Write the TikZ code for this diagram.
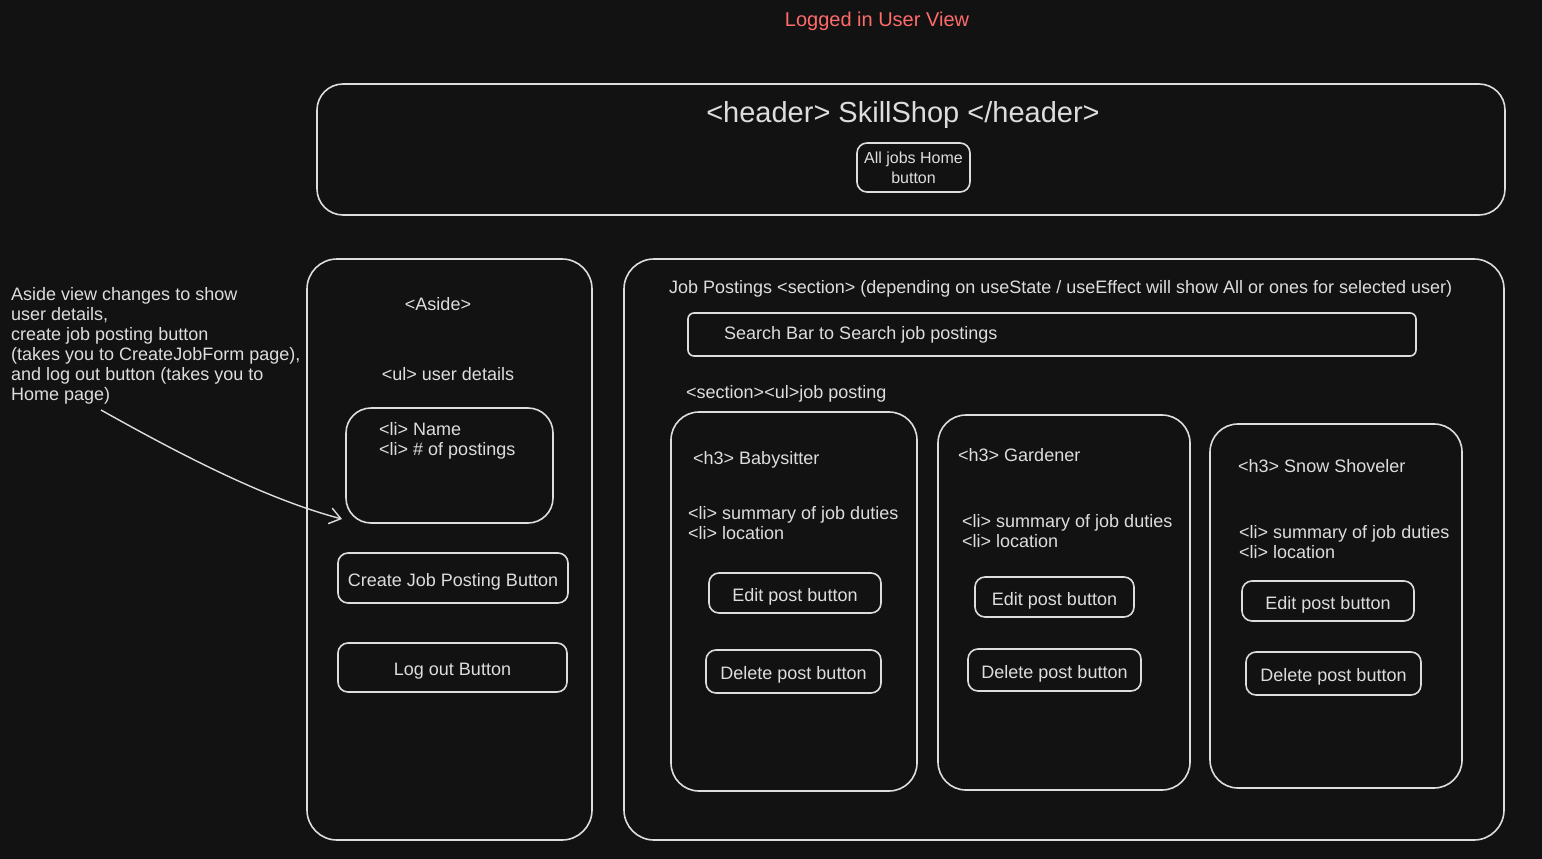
\documentclass[tikz,border=0pt]{standalone}
\usepackage{fontspec}
\setmainfont{Liberation Sans}
\usetikzlibrary{arrows.meta}
\definecolor{bgdark}{HTML}{121212}
\definecolor{ink}{HTML}{DDDDDD}
\definecolor{titlered}{HTML}{FF6B6B}
\tikzset{
  box/.style={draw=ink, line width=1.6pt, rounded corners=#1},
  box/.default=12pt,
  lbl/.style={text=ink, font=\fontsize{18}{20}\selectfont, inner sep=0pt, align=left},
  btn/.style={box=10pt, lbl, align=center, text height=16pt, text depth=0pt},
  arrowline/.style={draw=ink, line width=1.4pt, -{Straight Barb[length=11pt,width=16pt]}}
}
\begin{document}
\begin{tikzpicture}[x=1pt, y=-1pt]
  \useasboundingbox (0,0) rectangle (1542,859);
  \fill[bgdark] (0,0) rectangle (1542,859);
  \node[lbl, text=titlered, font=\fontsize{20}{22}\selectfont] (title) at (877,21) {Logged in User View};

  % header
  \draw[box=26pt] (317,84) rectangle (1505,215);
  \node[lbl, font=\fontsize{29}{32}\selectfont] (header) at (903,115) {<header> SkillShop </header>};
  \node[box=10pt, lbl, align=center, font=\fontsize{16}{20}\selectfont, minimum width=113, minimum height=49] (homebtn) at (913.5,167.5) {All jobs Home\\button};

  % aside
  \draw[box=30pt] (307,259) rectangle (592,840);
  \node[lbl] (aside) at (438,304) {<Aside>};
  \node[lbl] (userul) at (448,374) {<ul> user details};
  \draw[box=25pt] (346,408) rectangle (553,523);
  \node[lbl, anchor=north west] (userli) at (379,422) {<li> Name\\<li> \# of postings};
  \node[btn, minimum width=230, minimum height=50] (createbtn) at (453,578) {Create Job Posting Button};
  \node[btn, minimum width=229, minimum height=49] (logoutbtn) at (452.5,667.5) {Log out Button};

  % note + arrow
  \node[lbl, anchor=north west] (note) at (11,287) {Aside view changes to show\\user details,\\create job posting button\\(takes you to CreateJobForm page),\\and log out button (takes you to\\Home page)};
  \coordinate (notetail) at (101,410);
  \coordinate (asidetip) at (342,519);
  \draw[arrowline] (notetail) .. controls (190,460) and (270,500) .. (asidetip);

  % job postings section
  \draw[box=30pt] (624,259) rectangle (1504,840);
  \node[lbl, anchor=west] (jobsec) at (669,289) {Job Postings <section> (depending on useState / useEffect will show All or ones for selected user)};
  \draw[box=6pt] (688,313) rectangle (1416,356);
  \node[lbl, anchor=west] (search) at (724,335) {Search Bar to Search job postings};
  \node[lbl, anchor=west] (jobul) at (686,394) {<section><ul>job posting};

  % card 1
  \draw[box=28pt] (671,412) rectangle (917,791);
  \node[lbl, anchor=west] (babyh) at (693,460) {<h3> Babysitter};
  \node[lbl, anchor=north west] (babyli) at (688,506) {<li> summary of job duties\\<li> location};
  \node[btn, minimum width=172, minimum height=40] (babyedit) at (795,593) {Edit post button};
  \node[btn, minimum width=175, minimum height=43] (babydel) at (793.5,671.5) {Delete post button};

  % card 2
  \draw[box=28pt] (938,415) rectangle (1190,790);
  \node[lbl, anchor=west] (gardh) at (958,455) {<h3> Gardener};
  \node[lbl, anchor=north west] (gardli) at (962,514) {<li> summary of job duties\\<li> location};
  \node[btn, minimum width=159, minimum height=40] (gardedit) at (1054.5,597) {Edit post button};
  \node[btn, minimum width=173, minimum height=42] (garddel) at (1054.5,670) {Delete post button};

  % card 3
  \draw[box=28pt] (1210,424) rectangle (1462,788);
  \node[lbl, anchor=west] (snowh) at (1238,466) {<h3> Snow Shoveler};
  \node[lbl, anchor=north west] (snowli) at (1239,525) {<li> summary of job duties\\<li> location};
  \node[btn, minimum width=172, minimum height=40] (snowedit) at (1328,601) {Edit post button};
  \node[btn, minimum width=175, minimum height=43] (snowdel) at (1333.5,673.5) {Delete post button};
\end{tikzpicture}
\end{document}
